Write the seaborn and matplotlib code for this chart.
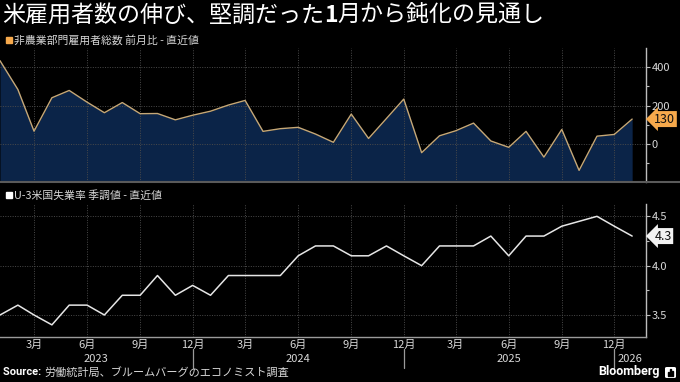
import numpy as np
import pandas as pd
import seaborn as sns
import matplotlib.pyplot as plt
import matplotlib.transforms as mtransforms
from matplotlib.patches import Rectangle, FancyBboxPatch

# monthly data, Jan 2023 .. Jan 2026
months = pd.date_range('2023-01-01', periods=37, freq='MS')
payrolls = [434, 284, 67, 241, 279, 218, 163, 216, 158, 159, 126, 150,
            171, 203, 227, 66, 80, 87, 52, 9, 156, 29, 133, 234,
            -45, 43, 69, 109, 16, -17, 66, -68, 76, -137, 41, 50, 130]
unemployment = [3.5, 3.6, 3.5, 3.4, 3.6, 3.6, 3.5, 3.7, 3.7, 3.9, 3.7, 3.8,
                3.7, 3.9, 3.9, 3.9, 3.9, 4.1, 4.2, 4.2, 4.1, 4.1, 4.2, 4.1,
                4.0, 4.2, 4.2, 4.2, 4.3, 4.1, 4.3, 4.3, 4.4, np.nan, 4.5, 4.4, 4.3]

quarter_ticks = pd.date_range('2023-03-01', '2025-12-01', freq='3MS')
quarter_labels = [f'{d.month}月' for d in quarter_ticks]
year_breaks = pd.to_datetime(['2023-12-01', '2024-12-01', '2025-12-01'])
year_labels = ['2023', '2024', '2025', '2026']

title_parts = ['米雇用者数の伸び、堅調だった', '1', '月から鈍化の見通し']
legend_top = '非農業部門雇用者総数 前月比 - 直近値'
legend_bottom = 'U-3米国失業率 季調値 - 直近値'
source_text = '労働統計局、ブルームバーグのエコノミスト調査'

BG = '#000000'
NAVY = '#0b2448'
GOLD = '#c6a877'
ORANGE = '#f6a94c'
TXT = '#d8d8d8'
GRID = '#4a4a4a'

sns.set_theme(style='dark')
plt.rcParams['font.family'] = ['Noto Sans CJK JP', 'DejaVu Sans']
plt.rcParams['axes.unicode_minus'] = False

W, H = 680, 382
fig = plt.figure(figsize=(6.8, 3.82), dpi=100, facecolor=BG)


def px_axes(x0, y0, x1, y1):
    return fig.add_axes([x0 / W, 1 - y1 / H, (x1 - x0) / W, (y1 - y0) / H])


ax1 = px_axes(0, 48, 646, 181.5)
ax2 = px_axes(0, 204, 646, 336.7)
xmax = pd.Timestamp('2026-01-25')

for ax in (ax1, ax2):
    ax.set_facecolor(BG)
    ax.set_xlim(months[0], xmax)
    ax.yaxis.tick_right()
    for s in ('left', 'top'):
        ax.spines[s].set_visible(False)
    ax.spines['right'].set_color('#bdbdbd')
    ax.spines['right'].set_linewidth(1)
    ax.set_xticks(quarter_ticks)
    ax.set_xticks(months, minor=True)
    ax.grid(True, axis='both', which='major', color=GRID, linestyle=(0, (1, 1.5)), linewidth=0.7)
    ax.set_axisbelow(False)
    ax.tick_params(axis='y', which='both', colors='#bdbdbd', labelcolor=TXT, labelsize=8,
                   direction='out', length=3, width=0.8, pad=1)
    ax.tick_params(axis='y', which='minor', length=2.5)
    ax.set_xlabel(None)
    ax.set_ylabel(None)

# top panel: payrolls area
ylo = -195
ax1.set_ylim(ylo, 500)
ax1.fill_between(months, payrolls, ylo, color=NAVY, zorder=1, linewidth=0)
sns.lineplot(x=months, y=payrolls, ax=ax1, color=GOLD, linewidth=1.0, zorder=3)
ax1.set_yticks([0, 200, 400])
ax1.set_yticks([-100, 100, 300], minor=True)
ax1.tick_params(axis='x', which='both', length=0, labelbottom=False)
ax1.spines['bottom'].set_visible(False)
ax1.set_xlabel(None)

# bottom panel: unemployment line
ur = pd.DataFrame({'month': months, 'rate': unemployment}).dropna()
sns.lineplot(data=ur, x='month', y='rate', ax=ax2, color='#e6e6e6', linewidth=1.1, zorder=3)
ax2.set_ylim(3.28, 4.625)
ax2.set_yticks([3.5, 4.0, 4.5])
ax2.set_yticklabels(['3.5', '4.0', '4.5'])
ax2.set_yticks([3.75, 4.25], minor=True)
ax2.spines['bottom'].set_color('#9a9a9a')
ax2.spines['bottom'].set_linewidth(1)
ax2.set_xticklabels(quarter_labels)
ax2.tick_params(axis='x', which='both', colors='#9a9a9a', labelcolor=TXT, labelsize=8,
                direction='out', length=2, width=0.8, pad=0.5)
ax2.set_xlabel(None)
ax2.set_ylabel(None)

# year separators and labels
tr = mtransforms.blended_transform_factory(ax2.transData, ax2.transAxes)
for d in year_breaks:
    ax2.plot([d, d], [-0.095, -0.235], transform=tr, color='#9a9a9a', lw=0.9, clip_on=False)
edges = [months[0]] + list(year_breaks) + [xmax]
for lab, a, b in zip(year_labels, edges[:-1], edges[1:]):
    ax2.text(a + (b - a) / 2, -0.168, lab, transform=tr, ha='center', va='center',
             color=TXT, fontsize=8)

# latest value tags
ax1.annotate(f'{payrolls[-1]}', xy=(1, payrolls[-1]), xycoords=('axes fraction', 'data'),
             xytext=(6, 0), textcoords='offset points', ha='left', va='center',
             fontsize=9, color='#111111',
             bbox=dict(boxstyle='larrow,pad=0.12', fc=ORANGE, ec='none'), annotation_clip=False)
ax2.annotate(f'{unemployment[-1]:.1f}', xy=(1, unemployment[-1]), xycoords=('axes fraction', 'data'),
             xytext=(6, 0), textcoords='offset points', ha='left', va='center',
             fontsize=9, color='#111111',
             bbox=dict(boxstyle='larrow,pad=0.12', fc='#f2f2f2', ec='none'), annotation_clip=False)

# separator between panels
fig.add_artist(plt.Line2D([0, 1], [1 - 182.5 / H] * 2, color='#5a5a5a', lw=1.5))

# title with bold "1"
t1 = fig.text(2 / W, 1 - 15 / H, title_parts[0], color='white', fontsize=16.6, va='center', ha='left')
t2 = ax1.annotate(title_parts[1], xy=(1, 0), xycoords=t1, va='bottom', ha='left',
                  color='white', fontsize=16.6, fontweight='bold', annotation_clip=False)
ax1.annotate(title_parts[2], xy=(1, 0), xycoords=t2, va='bottom', ha='left',
             color='white', fontsize=16.6, annotation_clip=False)

# legends
fig.add_artist(Rectangle((6 / W, 1 - 43 / H), 6 / W, 6 / H, transform=fig.transFigure, color=ORANGE))
fig.text(14 / W, 1 - 40 / H, legend_top, color=TXT, fontsize=7.8, va='center', ha='left')
fig.add_artist(Rectangle((6 / W, 1 - 198 / H), 6 / W, 6 / H, transform=fig.transFigure, color='white'))
fig.text(14 / W, 1 - 195 / H, legend_bottom, color=TXT, fontsize=7.8, va='center', ha='left')

# footer
s1 = fig.text(3 / W, 1 - 372 / H, 'Source: ', color='white', fontsize=8, fontweight='bold',
              va='center', ha='left', family=['Roboto', 'DejaVu Sans'])
ax2.annotate(source_text, xy=(1, 0.5), xycoords=s1, va='center', ha='left',
             color=TXT, fontsize=8, annotation_clip=False)
fig.text(660 / W, 1 - 372 / H, 'Bloomberg', color='white', fontsize=9, fontweight='bold',
         va='center', ha='right', family=['Roboto', 'DejaVu Sans'])
fig.add_artist(FancyBboxPatch((665 / W, 1 - 378 / H), 11 / W, 11 / H, transform=fig.transFigure,
                              boxstyle='round,pad=0,rounding_size=0.003', fc='white', ec='none'))
for i, h in enumerate([4, 7, 5]):
    fig.add_artist(Rectangle(((667.5 + i * 2.3) / W, 1 - 376 / H), 1.3 / W, h / H,
                             transform=fig.transFigure, color='black'))

fig.savefig('out.png', dpi=100, facecolor=BG)
